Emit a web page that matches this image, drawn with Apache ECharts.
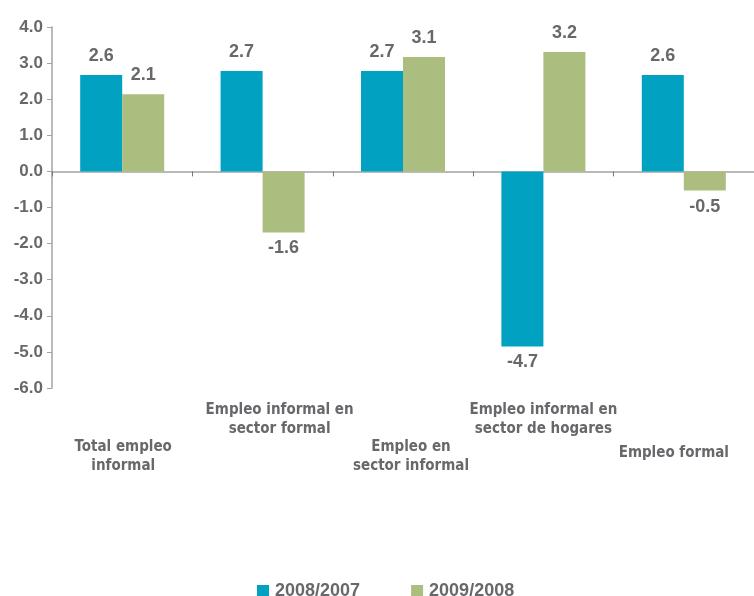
<!DOCTYPE html>
<html>
<head>
<meta charset="utf-8">
<script src="https://cdn.jsdelivr.net/npm/echarts@6/dist/echarts.min.js"></script>
<style>
html,body{margin:0;padding:0;background:#fff;}
#chart{width:754px;height:596px;}
</style>
</head>
<body>
<div id="chart"></div>
<script>
const categories = [
  'Total empleo\ninformal',
  'Empleo informal en\nsector formal',
  'Empleo en\nsector informal',
  'Empleo informal en\nsector de hogares',
  'Empleo formal'
];
const seriesNames = ['2008/2007', '2009/2008'];
const values2008 = [2.67, 2.78, 2.78, -4.85, 2.67];
const values2009 = [2.14, -1.69, 3.17, 3.31, -0.53];
const labels2008 = ['2.6', '2.7', '2.7', '-4.7', '2.6'];
const labels2009 = ['2.1', '-1.6', '3.1', '3.2', '-0.5'];
const yMin = -6, yMax = 4, yStep = 1;

// layout of staggered category labels (pixels)
const catShiftX = [1, 17, 8, 0, -10];
const catShiftY = [37, 0, 37, 0, 43];

const TEXT = '#67686b';
const AXIS = '#a3a3a3';
const COLORS = ['#00a1c1', '#abbd7f'];
const NARROW = "'Liberation Sans Narrow', 'DejaVu Sans Condensed', 'Roboto Condensed', sans-serif";
const SANS = "'Liberation Sans', Arial, sans-serif";

const catData = categories.map((c, i) => {
  const dx = catShiftX[i];
  return {
    value: c,
    textStyle: {
      padding: [catShiftY[i], dx < 0 ? -2 * dx : 0, 0, dx > 0 ? 2 * dx : 0]
    }
  };
});

function barData(vals) {
  return vals.map(v => ({
    value: v,
    label: { position: v >= 0 ? 'top' : 'bottom', distance: v >= 0 ? 10 : 7 }
  }));
}

const chart = echarts.init(document.getElementById('chart'), null, { renderer: 'canvas' });
chart.setOption({
  animation: false,
  color: COLORS,
  grid: { left: 52, right: -3, top: 27, bottom: 208, containLabel: false },
  legend: {
    data: seriesNames,
    left: 252,
    top: 577,
    icon: 'rect',
    itemWidth: 12,
    itemHeight: 12,
    itemGap: 51,
    textStyle: { color: TEXT, fontSize: 18, fontWeight: 'bold', fontFamily: SANS, padding: [0, 0, 0, 1] }
  },
  xAxis: [
    {
      type: 'category',
      data: catData,
      position: 'bottom',
      axisLine: { show: false, onZero: false },
      axisTick: { show: false },
      axisLabel: {
        interval: 0,
        margin: 13,
        color: TEXT,
        fontSize: 15,
        fontWeight: 'bold',
        fontFamily: NARROW,
        lineHeight: 19,
        align: 'center',
        verticalAlign: 'top'
      },
      splitLine: { show: false }
    },
    {
      type: 'category',
      data: categories,
      position: 'bottom',
      axisLine: { show: true, onZero: true, lineStyle: { color: AXIS, width: 1.5 } },
      axisTick: { show: true, length: 5, lineStyle: { color: '#777', width: 1 } },
      axisLabel: { show: false },
      splitLine: { show: false }
    }
  ],
  yAxis: {
    type: 'value',
    min: yMin,
    max: yMax,
    interval: yStep,
    axisLine: { show: true, lineStyle: { color: AXIS, width: 1.5 } },
    axisTick: { show: true, length: 5, lineStyle: { color: AXIS } },
    splitLine: { show: false },
    axisLabel: {
      margin: 9,
      color: TEXT,
      fontSize: 17,
      fontWeight: 'bold',
      fontFamily: SANS,
      formatter: v => v.toFixed(1)
    }
  },
  series: [
    {
      name: seriesNames[0],
      type: 'bar',
      xAxisIndex: 0,
      barWidth: 42,
      barGap: '0%',
      data: barData(values2008),
      label: {
        show: true,
        color: TEXT,
        fontSize: 18,
        fontWeight: 'bold',
        fontFamily: SANS,
        formatter: p => labels2008[p.dataIndex]
      }
    },
    {
      name: seriesNames[1],
      type: 'bar',
      xAxisIndex: 0,
      barWidth: 42,
      barGap: '0%',
      data: barData(values2009),
      label: {
        show: true,
        color: TEXT,
        fontSize: 18,
        fontWeight: 'bold',
        fontFamily: SANS,
        formatter: p => labels2009[p.dataIndex]
      }
    }
  ]
});
</script>
</body>
</html>
